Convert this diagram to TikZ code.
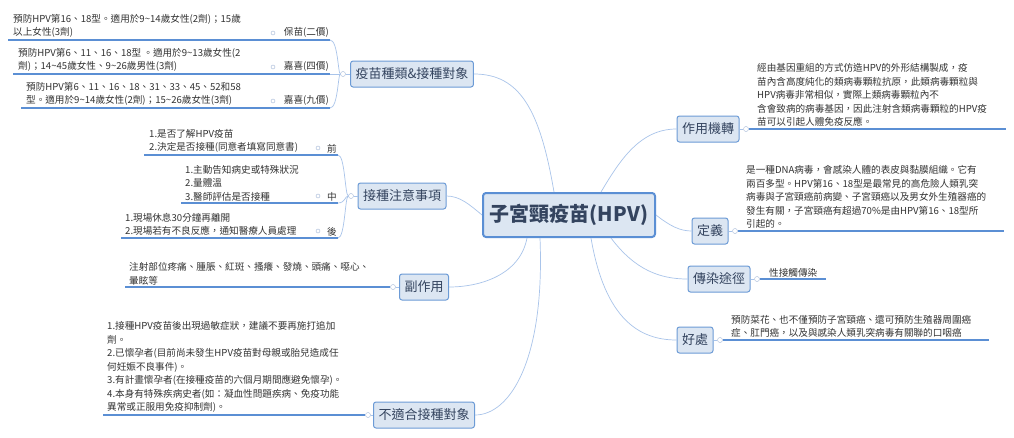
\documentclass[tikz,border=0pt]{standalone}
\usepackage{fontspec}
\setmainfont{Noto Sans CJK TC}
\definecolor{boxfill}{HTML}{DCE6F2}
\definecolor{boxdraw}{HTML}{6C9BD6}
\definecolor{conn}{HTML}{A9C4EA}
\definecolor{uline}{HTML}{5B8FD4}
\definecolor{txt}{HTML}{333333}
\definecolor{btxt}{HTML}{34445F}
\tikzset{
 mainbox/.style={draw=boxdraw,fill=boxfill,rounded corners=2.5pt,line width=1pt,text=btxt,font=\fontsize{13}{15}\selectfont,inner xsep=5pt,minimum height=26pt},
 leaf/.style={anchor=south west,align=left,inner sep=1pt,text=txt,font=\fontsize{9.6}{13.5}\selectfont},
 lab/.style={anchor=south east,inner sep=1pt,text=txt,font=\fontsize{9.6}{13.5}\selectfont},
 ul/.style={draw=uline,line width=1.1pt},
 cn/.style={draw=conn,line width=0.7pt},
 dot/.style={circle,draw=conn!80!gray,fill=white,inner sep=0pt,minimum size=5pt},
}
\begin{document}
\begin{tikzpicture}[x=1pt,y=-1pt]
\useasboundingbox[fill=white] (0,0) rectangle (1014,437);
% central
\node[draw=uline,fill=boxfill,rounded corners=3pt,line width=2pt,text=btxt,font=\fontsize{20}{22}\bfseries\selectfont,minimum width=172pt,minimum height=44pt] (c) at (569,215) {子宮頸疫苗(HPV)};
% main boxes
\node[mainbox] (a) at (412,74) {疫苗種類\&接種對象};
\node[mainbox] (b) at (402,196) {接種注意事項};
\node[mainbox] (s) at (424,287) {副作用};
\node[mainbox] (n) at (424,415) {不適合接種對象};
\node[mainbox] (m) at (708,129) {作用機轉};
\node[mainbox] (d) at (710,231) {定義};
\node[mainbox] (t) at (719,279) {傳染途徑};
\node[mainbox] (h) at (695,340) {好處};
% connectors from center
\draw[cn] (c.north west)++(72,0) .. controls (540,110) and (520,74) .. (a.east);
\draw[cn] (c.west) .. controls (470,205) and (460,196) .. (b.east);
\draw[cn] (c.south west)++(45,0) .. controls (520,275) and (480,287) .. (s.east);
\draw[cn] (c.south west)++(58,0) .. controls (545,360) and (510,415) .. (n.east);
\draw[cn] (c.north east)++(-55,0) .. controls (620,160) and (640,129) .. (m.west);
\draw[cn] (c.east) .. controls (670,226) and (680,231) .. (d.west);
\draw[cn] (c.south east)++(-45,0) .. controls (635,270) and (660,279) .. (t.west);
\draw[cn] (c.south east)++(-65,0) .. controls (605,320) and (640,340) .. (h.west);
% --- 疫苗種類
\node[dot] (ja) at (343,74) {};
\draw[cn] (ja) -- (a.west);
\draw[cn] (ja.west) .. controls (338,74) and (338,40) .. (330,40);
\draw[cn] (ja.west) -- (330,74);
\draw[cn] (ja.west) .. controls (338,74) and (338,108) .. (330,108);
\draw[ul] (8,40) -- (330,40); \draw[ul] (13,74) -- (330,74); \draw[ul] (21,108) -- (330,108);
\foreach \y/\l in {40/保苗(二價),74/嘉喜(四價),108/嘉喜(九價)}{
 \node[lab] at (330,\y-1) {\l};
 \node[dot,minimum size=4pt] at (273,\y-7) {};}
\node[leaf] at (12,39) {預防HPV第16、18型。適用於9\textasciitilde14歲女性(2劑)；15歲\\以上女性(3劑)};
\node[leaf] at (17,73) {預防HPV第6、11、16、18型 。適用於9\textasciitilde13歲女性(2\\劑)；14\textasciitilde45歲女性、9\textasciitilde26歲男性(3劑)};
\node[leaf] at (25,107) {預防HPV第6、11、16、18、31、33、45、52和58\\型。適用於9\textasciitilde14歲女性(2劑)；15\textasciitilde26歲女性(3劑)};
% --- 接種注意事項
\node[dot] (jb) at (351,196) {};
\draw[cn] (jb) -- (b.west);
\draw[cn] (jb.west) .. controls (345,196) and (345,155) .. (338,155);
\draw[cn] (jb.west) .. controls (345,196) and (345,203) .. (338,203);
\draw[cn] (jb.west) .. controls (345,196) and (345,238) .. (338,238);
\draw[ul] (144,155) -- (338,155); \draw[ul] (181,203) -- (338,203); \draw[ul] (121,238) -- (338,238);
\foreach \y/\l in {155/前,203/中,238/後}{
 \node[lab] at (338,\y-1) {\l};
 \node[dot,minimum size=4pt] at (318,\y-7) {};}
\node[leaf] at (148,154) {1.是否了解HPV疫苗\\2.決定是否接種(同意者填寫同意書)};
\node[leaf] at (184,202) {1.主動告知病史或特殊狀況\\2.量體溫\\3.醫師評估是否接種};
\node[leaf] at (124,237) {1.現場休息30分鐘再離開\\2.現場若有不良反應，通知醫療人員處理};
% --- 副作用
\node[dot] (js) at (393,287) {};
\draw[cn] (js) -- (s.west);
\draw[ul] (125,287) -- (js.west);
\node[leaf] at (128,286) {注射部位疼痛、腫脹、紅斑、搔癢、發燒、頭痛、噁心、\\暈眩等};
% --- 不適合
\node[dot] (jn) at (368,415) {};
\draw[cn] (jn) -- (n.west);
\draw[ul] (103,415) -- (jn.west);
\node[leaf] at (106,414) {1.接種HPV疫苗後出現過敏症狀，建議不要再施打追加\\劑。\\2.已懷孕者(目前尚未發生HPV疫苗對母親或胎兒造成任\\何妊娠不良事件)。\\3.有計畫懷孕者(在接種疫苗的六個月期間應避免懷孕)。\\4.本身有特殊疾病史者(如：凝血性問題疾病、免疫功能\\異常或正服用免疫抑制劑)。};
% --- right side
\node[dot] (jm) at (746,129) {};
\draw[cn] (m.east) -- (jm); \draw[ul] (jm.east) -- (1006,129);
\node[leaf] at (756,128) {經由基因重組的方式仿造HPV的外形結構製成，疫\\苗內含高度純化的類病毒顆粒抗原，此類病毒顆粒與\\HPV病毒非常相似，實際上類病毒顆粒內不\\含會致病的病毒基因，因此注射含類病毒顆粒的HPV疫\\苗可以引起人體免疫反應。};
\node[dot] (jd) at (735,231) {};
\draw[cn] (d.east) -- (jd); \draw[ul] (jd.east) -- (1004,231);
\node[leaf] at (745,230) {是一種DNA病毒，會感染人體的表皮與黏膜組織。它有\\兩百多型。HPV第16、18型是最常見的高危險人類乳突\\病毒與子宮頸癌前病變、子宮頸癌以及男女外生殖器癌的\\發生有關，子宮頸癌有超過70\%是由HPV第16、18型所\\引起的。};
\node[dot] (jt) at (757,279) {};
\draw[cn] (t.east) -- (jt); \draw[ul] (jt.east) -- (826,279);
\node[leaf] at (768,278) {性接觸傳染};
\node[dot] (jh) at (720,340) {};
\draw[cn] (h.east) -- (jh); \draw[ul] (jh.east) -- (989,340);
\node[leaf] at (730,339) {預防菜花、也不僅預防子宮頸癌、還可預防生殖器周圍癌\\症、肛門癌，以及與感染人類乳突病毒有關聯的口咽癌};
\end{tikzpicture}
\end{document}
